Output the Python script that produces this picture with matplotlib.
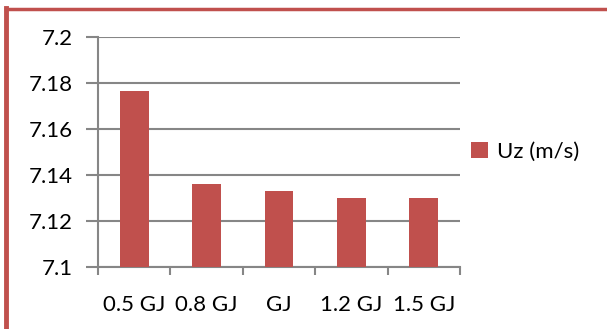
import numpy as np
import matplotlib.pyplot as plt
from matplotlib.lines import Line2D

# Vertical velocity for each energy level
categories = ['0.5 GJ', '0.8 GJ', 'GJ', '1.2 GJ', '1.5 GJ']
uz = [7.1767, 7.1363, 7.1332, 7.1302, 7.1302]
series_name = 'Uz (m/s)'

bar_color = '#C0504D'
grid_color = '#868686'

plt.rcParams['font.family'] = ['Lato', 'DejaVu Sans']

fig = plt.figure(figsize=(6.07, 3.29), dpi=100)
ax = fig.add_axes([98 / 607, 1 - 267 / 329, (460 - 98) / 607, (267 - 37) / 329])

x = np.arange(len(categories))
ax.bar(x, uz, width=0.4, color=bar_color, label=series_name, zorder=3)

ax.set_xlim(-0.5, len(categories) - 0.5)
ax.set_ylim(7.1, 7.2)
ax.set_yticks([7.1, 7.12, 7.14, 7.16, 7.18, 7.2])
ax.set_yticklabels(['7.1', '7.12', '7.14', '7.16', '7.18', '7.2'])
ax.set_xticks(x)
ax.set_xticklabels(categories)

# category boundary ticks on the x axis
ax.set_xticks(np.arange(len(categories) + 1) - 0.5, minor=True)
ax.tick_params(axis='x', which='major', length=0, pad=20, labelsize=16)
ax.tick_params(axis='x', which='minor', length=6, width=1.5, color=grid_color)
ax.tick_params(axis='y', length=9, width=1.5, color=grid_color, pad=9, labelsize=16)

ax.yaxis.grid(True, color=grid_color, linewidth=1.5, zorder=0)
for side in ['top', 'right']:
    ax.spines[side].set_visible(False)
for side in ['left', 'bottom']:
    ax.spines[side].set_color(grid_color)
    ax.spines[side].set_linewidth(1.5)

leg = ax.legend(loc='center left', bbox_to_anchor=(0.975, 0.5), frameon=False,
                fontsize=16, handlelength=0.75, handleheight=0.75, handletextpad=0.4)

# red frame around the chart area
fig.add_artist(Line2D([6 / 607, 6 / 607], [0, 1 - 8 / 329], color=bar_color, linewidth=3.5))
fig.add_artist(Line2D([6 / 607, 1], [1 - 9 / 329, 1 - 9 / 329], color=bar_color, linewidth=2.5))

fig.savefig('out.png', dpi=100)
